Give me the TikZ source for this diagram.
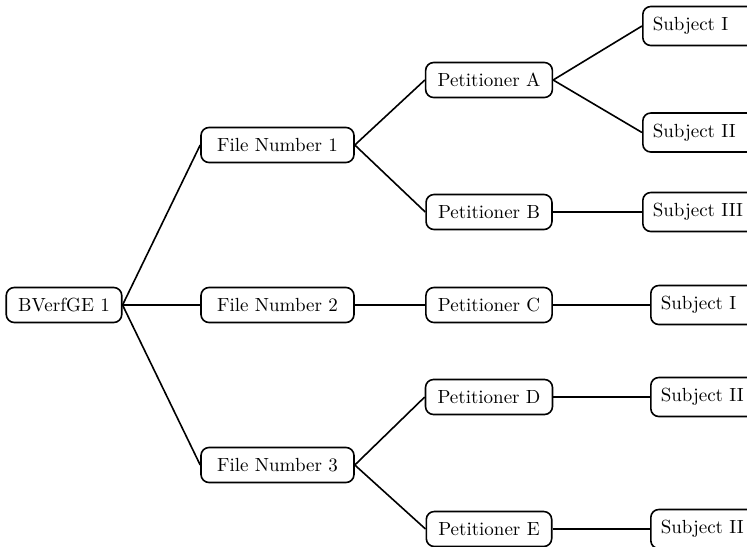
\documentclass[tikz,border=0pt]{standalone}
\begin{document}
\begin{tikzpicture}[x=0.5pt, y=-0.5pt,
  box/.style={draw, thick, rounded corners=4pt, minimum height=17.5pt, inner xsep=6pt,
    font=\fontsize{9.5}{11}\selectfont},
  subjbox/.style={box, anchor=west, minimum height=19.5pt, inner xsep=5pt, text width=60pt, align=left}]
  \clip (0, 0) rectangle (747, 546);
  % decision, file numbers, petitioners
  \node[box, minimum width=56pt] (bverfge) at (64, 305) {BVerfGE 1};
  \node[box, minimum width=76.5pt] (file1) at (277.5, 145) {File Number 1};
  \node[box, minimum width=76.5pt] (file2) at (277.5, 305) {File Number 2};
  \node[box, minimum width=76.5pt] (file3) at (277.5, 465) {File Number 3};
  \node[box, minimum width=62pt] (petA) at (489, 80) {Petitioner A};
  \node[box, minimum width=62pt] (petB) at (489, 212) {Petitioner B};
  \node[box, minimum width=62pt] (petC) at (489, 305) {Petitioner C};
  \node[box, minimum width=62pt] (petD) at (489, 397) {Petitioner D};
  \node[box, minimum width=62pt] (petE) at (489, 529) {Petitioner E};
  % subjects
  \node[subjbox] (subjAi) at (642, 26) {Subject I};
  \node[subjbox] (subjAii) at (642, 132.5) {Subject II};
  \node[subjbox] (subjB) at (642, 212) {Subject III};
  \node[subjbox] (subjC) at (650, 305) {Subject I};
  \node[subjbox] (subjD) at (650, 397) {Subject II};
  \node[subjbox] (subjE) at (650, 529) {Subject II};
  % connectors
  \draw[thick] (bverfge.east) -- (file1.west);
  \draw[thick] (bverfge.east) -- (file2.west);
  \draw[thick] (bverfge.east) -- (file3.west);
  \draw[thick] (file1.east) -- (petA.west);
  \draw[thick] (file1.east) -- (petB.west);
  \draw[thick] (file2.east) -- (petC.west);
  \draw[thick] (file3.east) -- (petD.west);
  \draw[thick] (file3.east) -- (petE.west);
  \draw[thick] (petA.east) -- (subjAi.west);
  \draw[thick] (petA.east) -- (subjAii.west);
  \draw[thick] (petB.east) -- (subjB.west);
  \draw[thick] (petC.east) -- (subjC.west);
  \draw[thick] (petD.east) -- (subjD.west);
  \draw[thick] (petE.east) -- (subjE.west);
\end{tikzpicture}
\end{document}
